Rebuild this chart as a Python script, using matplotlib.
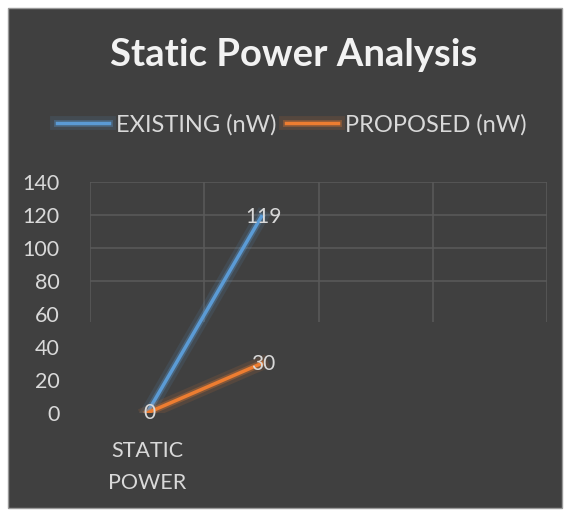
import matplotlib.pyplot as plt
import matplotlib.patheffects as pe
from matplotlib.patches import Rectangle

categories = ["STATIC\nPOWER", "", "", ""]
existing = [0, 119]
proposed = [0, 30]
series_names = ["EXISTING (nW)", "PROPOSED (nW)"]
yticks = [0, 20, 40, 60, 80, 100, 120, 140]

bg = "#404040"
txt = "#d9d9d9"
grid = "#595959"
blue = "#5b9bd5"
orange = "#ed7d31"

plt.rcParams['font.family'] = ['Lato', 'DejaVu Sans']

fig = plt.figure(figsize=(5.7, 5.14), dpi=100, facecolor="white")
fig.patches.append(Rectangle((8 / 570, 6 / 514), 554 / 570, 500 / 514,
                             transform=fig.transFigure, facecolor=bg,
                             edgecolor="#9a9a9a", lw=1, zorder=-5))

ax = fig.add_axes([90 / 570, 101 / 514, 457 / 570, 231 / 514])
ax.set_facecolor("none")
ax.set_xlim(-0.5, len(categories) - 0.5)
ax.set_ylim(0, 140)

# partial grid (the original has a perspective-ish box in the top part)
for v in [80, 100, 120, 140]:
    ax.hlines(v, -0.5, len(categories) - 0.5, color=grid, lw=1.2, zorder=1)
for i in range(len(categories) + 1):
    ax.vlines(i - 0.5, 55, 140, color=grid, lw=1.2, zorder=1)

x = list(range(len(existing)))
glow = lambda c: [pe.Stroke(linewidth=10, foreground=c, alpha=0.12),
                  pe.Stroke(linewidth=5, foreground=c, alpha=0.3), pe.Normal()]
ax.plot(x, existing, color=blue, lw=2.5, label=series_names[0],
        path_effects=glow(blue), zorder=3)
ax.plot(x, proposed, color=orange, lw=2.5, label=series_names[1],
        path_effects=glow(orange), zorder=3)

for xi, v in zip(x, existing):
    ax.text(xi + 0.02, v, str(v), color=txt, fontsize=15, ha="center", va="center", zorder=4)
for xi, v, e in zip(x, proposed, existing):
    if v != e:  # shared point already labelled
        ax.text(xi + 0.02, v, str(v), color=txt, fontsize=15, ha="center", va="center", zorder=4)

ax.set_yticks(yticks)
ax.set_xticks(range(len(categories)))
ax.set_xticklabels(categories, linespacing=1.75, va="top")
ax.tick_params(axis="y", colors=txt, labelsize=15.5, length=0, pad=22)
ax.tick_params(axis="x", colors=txt, labelsize=15.5, length=0, pad=20)
for s in ax.spines.values():
    s.set_visible(False)

fig.text(0.515, 0.893, "Static Power Analysis", color="#f2f2f2", fontsize=27.5,
         fontweight="bold", ha="center", va="center")

leg = fig.legend(loc="center", bbox_to_anchor=(0.512, 0.758), ncol=2,
                 frameon=False, fontsize=17, handlelength=2.2,
                 handletextpad=0.3, columnspacing=0.4)
for t in leg.get_texts():
    t.set_color(txt)

fig.savefig("out.png", dpi=100, facecolor="white")
